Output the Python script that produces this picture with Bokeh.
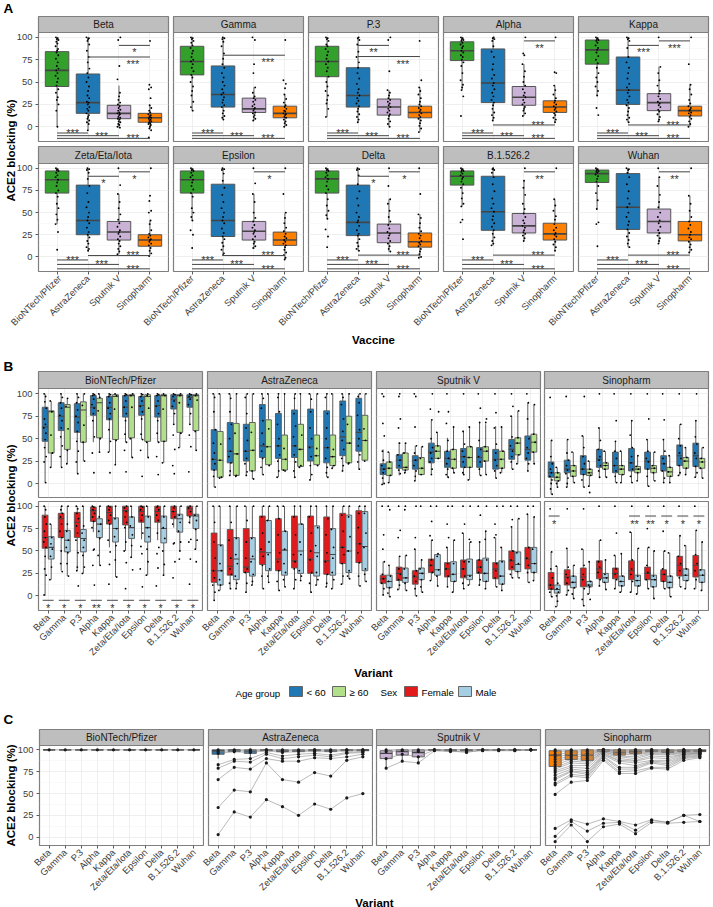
from math import pi
from bokeh.plotting import figure
from bokeh.models import Range1d, FixedTicker, GridBox, Column
from bokeh.core.properties import value
from bokeh.embed import file_html
from bokeh.resources import INLINE

VACCINES = ["BioNTech/Pfizer", "AstraZeneca", "Sputnik V", "Sinopharm"]
VARIANTS = ["Beta", "Gamma", "P.3", "Alpha", "Kappa", "Zeta/Eta/Iota", "Epsilon", "Delta", "B.1.526.2", "Wuhan"]
Y_TICKS = [0, 25, 50, 75, 100]
Y_MINOR = [12.5, 37.5, 62.5, 87.5]
VAX_COL = ["#33A02C", "#1F78B4", "#CAB2D6", "#FF7F00"]
AGE_COL = ["#1F78B4", "#B2DF8A"]
SEX_COL = ["#E31A1C", "#A6CEE3"]
AGE_NAMES = ["< 60", "≥ 60"]
SEX_NAMES = ["Female", "Male"]

# ---- panel A : q1, median, q3, whisker low, whisker high
A_BETA_BOX = [[45,63,84,0,100],[15,27,59,-4,100],[9,15,24,-1,46],[5,10,15,-2,24]]
A_GAMMA_BOX = [[58,73,90,18,100],[22,36,68,8,100],[16,20,32,7,44],[10,15,23,0,36]]
A_P3_BOX = [[56,73,90,11,100],[22,35,66,5,100],[13,22,31,0,41],[10,16,23,-6,44]]
A_ALPHA_BOX = [[74,85,95,41,100],[27,49,87,7,100],[24,33,45,12,70],[16,22,29,5,46]]
A_KAPPA_BOX = [[70,86,97,35,100],[25,41,78,5,100],[18,27,37,6,67],[12,18,23,0,47]]
A_ZETA_BOX = [[72,87,97,37,100],[25,41,81,7,100],[19,28,40,3,71],[12,19,25,1,41]]
A_EPS_BOX = [[72,87,97,41,100],[23,41,82,2,100],[19,29,40,9,71],[13,19,28,-3,50]]
A_DELTA_BOX = [[72,88,97,43,100],[24,39,81,7,100],[16,27,37,6,65],[11,17,27,-1,48]]
A_B1526_BOX = [[81,91,97,57,100],[30,51,91,13,100],[27,35,49,18,86],[19,26,38,7,65]]
A_WUHAN_BOX = [[84,94,98,54,100],[31,56,94,11,100],[27,40,54,15,90],[18,25,40,5,69]]

A_BETA_PTS = [
 [100,99,98,97,95,93,90,87,85,83,80,76,72,68,65,63,60,57,54,50,46,42,38,33,30,25,18,0],
 [100,99,98,96,92,85,78,72,65,60,55,50,45,40,35,32,28,27,25,22,20,18,15,13,11,9,7,5,3,-4],
 [100,97,68,53,38,34,30,27,25,23,21,19,18,16,15,14,13,11,10,9,8,6,5,3,2,0,-1],
 [96,47,44,42,32,24,21,18,16,14,13,12,11,10,9,8,7,6,5,4,3,2,0,-2,-4,-12]]
A_GAMMA_PTS = [
 [100,99,98,96,94,91,88,85,82,78,75,73,70,66,62,58,55,50,45,40,35,28,22,18],
 [100,99,98,95,90,82,76,70,66,60,55,50,46,42,38,36,33,30,27,24,22,18,15,12,10,8],
 [100,97,70,60,44,38,34,32,30,28,25,23,21,20,18,16,15,13,11,9,7],
 [97,52,48,43,36,31,27,24,22,20,18,17,15,14,13,11,10,8,6,4,2,0]]
A_P3_PTS = [
 [100,99,98,96,92,90,87,84,80,76,73,70,66,62,56,50,45,40,35,30,26,20,11],
 [100,99,97,92,84,78,72,66,60,54,48,42,38,35,32,29,26,23,20,17,14,11,8,5],
 [100,97,62,41,38,35,32,30,28,26,24,22,20,18,16,14,12,9,6,3,0],
 [96,52,44,40,36,32,28,25,23,21,19,17,15,13,11,9,7,4,1,-2,-6]]
A_ALPHA_PTS = [
 [100,99,98,97,96,94,92,90,88,85,83,80,78,75,72,68,60,52,47,44,41,34,12],
 [100,99,98,96,90,84,78,70,64,58,54,49,46,42,38,34,30,27,24,20,16,13,10,7],
 [100,82,80,70,62,56,50,46,42,38,35,33,30,27,25,22,20,18,15,12],
 [100,61,60,46,41,36,32,29,27,25,23,21,19,17,15,13,10,8,5]]
A_KAPPA_PTS = [
 [100,99,98,97,96,94,91,88,86,83,79,75,71,66,60,55,50,45,40,35,21,13],
 [100,99,98,96,88,78,72,66,60,54,48,44,41,38,34,30,27,24,21,17,13,10,8,5],
 [100,67,60,52,46,40,37,34,31,28,26,24,22,19,17,14,11,8,6],
 [100,70,47,42,36,30,26,23,21,19,18,16,15,13,11,9,6,3,0]]
A_ZETA_PTS = [
 [100,99,98,97,95,92,90,87,84,80,75,72,68,60,55,48,42,37,28,8],
 [100,99,98,95,88,80,72,62,56,50,45,41,38,33,28,25,22,18,15,11,9,7],
 [100,81,71,62,55,48,42,38,34,30,28,26,23,20,18,15,12,9,6,3],
 [100,69,63,52,50,41,37,30,26,24,22,20,19,17,15,13,10,7,4,1]]
A_EPS_PTS = [
 [100,99,98,97,95,92,90,87,84,80,76,72,68,55,50,45,41,30,25,10],
 [100,99,98,94,86,78,70,62,55,50,45,41,38,32,27,23,20,16,12,8,4,2],
 [100,83,71,62,50,44,40,36,33,30,28,26,23,20,17,15,12,10],
 [100,71,50,44,38,33,29,26,23,21,19,17,15,13,11,8,5,2,-1,-3]]
A_DELTA_PTS = [
 [100,99,98,97,95,92,90,88,85,80,76,72,65,58,52,47,43,31,23,11],
 [100,99,98,92,82,74,66,58,50,45,41,39,35,30,26,24,20,16,12,9,7],
 [100,80,65,60,52,45,40,36,32,28,26,24,21,18,15,12,9,6],
 [100,71,48,44,38,33,29,26,24,21,18,16,14,12,9,6,3,0,-1]]
A_B1526_PTS = [
 [100,99,98,97,96,94,92,90,88,85,82,78,72,66,60,57,42,39,20],
 [100,99,98,95,90,82,74,66,60,55,51,46,42,38,34,30,26,22,18,15,13],
 [100,86,78,70,60,54,49,45,41,38,35,33,30,28,26,24,21,18],
 [100,65,58,52,46,42,37,33,30,27,25,23,20,17,14,11,7]]
A_WUHAN_PTS = [
 [100,99,98,97,96,95,93,91,88,85,80,72,64,54,39,37,12],
 [100,99,98,95,90,82,74,66,60,56,50,45,40,36,31,27,23,19,15,11],
 [100,90,80,70,62,56,50,45,41,38,34,30,27,24,21,18,15],
 [100,69,60,52,45,40,36,32,28,25,22,20,17,14,11,8,5]]

A_SIG_LOW = [(1,2,"***"),(1,3,"***"),(1,4,"***")]
A_LOW_Y_ROW1 = [-7,-10,-13]
A_LOW_Y_ROW2 = [-3.5,-8.5,-13.5]
A_BETA_SIG = [(2,4,78,"***"),(3,4,91,"*")]
A_GAMMA_SIG = [(2,4,80,"***")]
A_P3_SIG = [(2,3,91,"**"),(2,4,78.5,"***")]
A_ALPHA_SIG = [(3,4,96,"**"),(2,4,2,"***")]
A_KAPPA_SIG = [(2,3,91,"***"),(3,4,96,"***"),(2,4,2,"***")]
A_ZETA_SIG = [(2,3,91,"*"),(3,4,96,"*"),(2,4,1.5,"***")]
A_EPS_SIG = [(3,4,96,"*"),(2,4,1.5,"***")]
A_DELTA_SIG = [(2,3,91,"*"),(3,4,96,"*"),(2,4,2,"***")]
A_B1526_SIG = [(3,4,96,"**"),(2,4,2,"***")]
A_WUHAN_SIG = [(3,4,96,"**"),(2,4,2,"***")]

A_ROW1 = [("Beta",A_BETA_BOX,A_BETA_PTS,A_BETA_SIG),("Gamma",A_GAMMA_BOX,A_GAMMA_PTS,A_GAMMA_SIG),
          ("P.3",A_P3_BOX,A_P3_PTS,A_P3_SIG),("Alpha",A_ALPHA_BOX,A_ALPHA_PTS,A_ALPHA_SIG),
          ("Kappa",A_KAPPA_BOX,A_KAPPA_PTS,A_KAPPA_SIG)]
A_ROW2 = [("Zeta/Eta/Iota",A_ZETA_BOX,A_ZETA_PTS,A_ZETA_SIG),("Epsilon",A_EPS_BOX,A_EPS_PTS,A_EPS_SIG),
          ("Delta",A_DELTA_BOX,A_DELTA_PTS,A_DELTA_SIG),("B.1.526.2",A_B1526_BOX,A_B1526_PTS,A_B1526_SIG),
          ("Wuhan",A_WUHAN_BOX,A_WUHAN_PTS,A_WUHAN_SIG)]

# ---- panel B : one row per variant : q1, median, q3, whisker low, whisker high
B_BNT_U60_BOX = [[47,63,85,1,100],[59,75,90,18,100],[57,74,89,11,100],[76,85,98,46,100],[71,85,97,35,100],[74,85,98,46,100],[76,87,97,49,100],[74,87,98,46,100],[83,94,99,66,100],[85,96,99,66,100]]
B_BNT_O60_BOX = [[34,80,81,18,92],[38,85,88,22,95],[46,82,91,25,100],[51,90,95,35,100],[49,97,99,21,100],[51,98,99,29,100],[47,97,99,29,100],[47,98,99,23,100],[57,98,99,40,100],[59,98,99,37,100]]
B_AZ_U60_BOX = [[15,27,60,-4,100],[23,36,68,9,100],[25,36,66,9,100],[29,42,88,10,100],[28,42,78,7,100],[29,42,82,7,100],[25,41,83,4,100],[23,40,81,7,100],[31,52,92,14,100],[36,57,95,16,100]]
B_AZ_O60_BOX = [[7,26,58,7,100],[9,33,67,9,100],[14,37,68,5,100],[21,41,71,20,100],[15,27,54,15,100],[19,38,66,18,100],[21,31,54,20,100],[20,30,54,17,100],[23,45,75,22,100],[26,48,76,25,100]]
B_SV_U60_BOX = [[10,16,22,-1,38],[17,26,32,9,46],[16,26,31,3,42],[23,35,45,10,71],[18,28,36,7,51],[18,30,39,10,59],[18,29,40,9,68],[16,27,38,6,64],[27,38,49,16,75],[26,38,53,14,90]]
B_SV_O60_BOX = [[9,17,24,1,35],[15,18,34,12,45],[10,17,29,10,41],[28,36,42,28,57],[17,27,38,12,63],[18,29,41,4,63],[25,36,41,10,66],[17,27,36,12,63],[32,45,51,22,81],[35,46,55,22,88]]
B_SP_U60_BOX = [[7,12,24,-12,48],[12,16,26,-4,49],[10,16,31,-4,53],[18,27,38,7,62],[12,20,35,1,47],[14,23,39,1,70],[16,25,35,-3,49],[14,22,31,1,49],[20,31,43,9,66],[19,31,45,7,70]]
B_SP_O60_BOX = [[3,7,12,-4,18],[8,14,20,1,35],[9,12,16,-3,25],[16,20,23,7,36],[10,16,20,1,36],[12,16,19,3,31],[12,17,20,3,35],[8,13,18,1,31],[17,25,29,10,40],[17,24,28,6,40]]
B_BNT_F_BOX = [[53,65,90,0,100],[65,86,92,28,100],[65,82,93,28,100],[83,95,99,71,100],[80,93,100,54,100],[79,95,100,50,100],[82,94,100,63,100],[82,94,100,62,100],[86,94,100,76,100],[89,97,100,80,100]]
B_BNT_M_BOX = [[41,54,66,18,80],[49,62,73,22,100],[49,64,74,25,100],[65,80,86,34,100],[60,75,87,21,100],[64,76,88,43,100],[60,76,89,23,100],[59,75,89,23,100],[71,86,91,50,100],[75,89,91,52,100]]
B_AZ_F_BOX = [[15,28,70,-5,100],[23,33,74,8,100],[26,32,75,4,100],[35,49,89,8,100],[28,41,86,6,100],[31,39,89,8,100],[25,41,89,4,100],[24,39,88,10,100],[36,54,92,13,100],[37,58,95,11,100]]
B_AZ_M_BOX = [[12,28,57,6,100],[18,41,65,8,100],[22,41,65,12,100],[28,48,84,15,100],[23,51,72,10,100],[25,50,80,17,100],[22,48,78,12,100],[23,46,75,8,100],[26,50,90,19,100],[28,55,94,16,100]]
B_SV_F_BOX = [[14,19,23,1,38],[17,25,32,7,44],[13,21,28,0,52],[26,34,41,17,62],[21,30,37,10,54],[20,30,40,8,70],[25,32,40,12,60],[19,30,37,10,65],[29,39,50,20,77],[30,41,54,15,91]]
B_SV_M_BOX = [[9,16,23,-1,34],[15,20,31,6,45],[18,25,31,4,40],[23,29,46,11,47],[16,24,38,4,62],[18,23,41,12,60],[16,25,42,8,72],[13,22,39,6,54],[27,35,49,20,86],[26,36,54,17,88]]
B_SP_F_BOX = [[7,12,26,-1,49],[12,21,29,1,53],[10,21,31,-11,52],[19,30,39,11,62],[19,25,31,8,45],[18,28,39,4,71],[18,25,32,8,54],[16,24,29,8,50],[22,34,44,10,67],[21,34,45,8,73]]
B_SP_M_BOX = [[3,7,12,-12,33],[9,15,22,-3,34],[10,12,16,2,38],[15,20,25,7,40],[11,16,22,4,47],[11,17,23,2,53],[10,18,23,-3,50],[9,15,22,-1,48],[17,23,30,8,56],[15,23,29,6,60]]

B_BNT_U60_PTS = [[100,97,91,84,72,66,62,56,49,40,30,24,1],[100,96,90,84,76,70,62,52,42,30,18],[100,96,90,82,75,68,58,47,36,24,11],[100,99,98,94,88,84,78,70,52,34,12],[100,99,97,90,84,78,72,60,47,35,12],[100,99,98,92,85,78,70,55,46,37,13],[100,99,97,92,86,80,72,55,49,37,8],[100,99,98,92,86,78,70,56,46,30,10],[100,99,97,92,86,78,66,54,38,20,11],[100,99,97,94,88,78,66,54,41,13]]
B_BNT_O60_PTS = [[92,80,54,34,18],[95,86,61,37,22],[100,87,65,46,25],[100,96,81,50,35],[100,98,83,48,21],[100,98,85,50,29],[100,98,84,46,29],[100,98,83,47,23],[100,98,90,56,40],[100,98,93,58,37]]
B_AZ_U60_PTS = [[100,96,80,60,45,34,27,22,15,8,-4],[100,95,80,66,50,36,30,23,14,9],[100,96,78,62,48,36,28,22,13,9],[100,95,84,70,56,44,36,28,18,10],[100,96,80,66,50,42,32,25,14,7],[100,95,78,64,52,42,32,24,14,7],[100,94,80,62,50,40,30,20,10,4],[100,96,78,62,50,40,28,18,12,7],[100,96,88,72,58,48,38,28,20,14],[100,97,90,76,60,50,42,32,24,16]]
B_AZ_O60_PTS = [[100,44,26,7,6],[100,56,33,9,8],[100,57,37,14,5],[100,61,41,20],[100,39,27,15,14],[100,54,38,20,18],[100,39,31,20],[100,38,30,20,17],[100,66,45,23,22],[100,61,48,25]]
B_SV_U60_PTS = [[100,97,67,53,36,26,20,16,12,6,0,-1],[100,97,72,62,45,32,26,20,15,11],[100,97,63,42,34,26,20,14,8,3],[100,83,71,50,40,34,28,24,16,10],[100,80,67,48,36,28,22,16,10,7],[100,58,44,36,30,24,18,12,10],[100,84,68,48,38,30,24,16,9],[100,79,62,44,34,26,20,14,6],[100,86,75,52,42,36,30,24,16],[100,90,72,50,40,34,28,22,14]]
B_SV_O60_PTS = [[35,24,17,9,1],[45,34,18,15,12],[41,28,17,10],[80,57,42,36,28],[63,38,27,17,12],[63,41,29,18,4],[72,68,41,36,25,10],[63,36,27,17,12],[81,51,45,32,22],[88,55,46,35,22]]
B_SP_U60_PTS = [[96,48,30,22,16,12,8,4,0,-6,-12],[97,49,34,26,20,15,11,6,0,-4],[97,53,40,30,22,16,10,4,-4],[100,62,48,38,30,26,20,14,7],[100,70,47,36,28,20,14,8,1],[100,70,54,40,30,23,16,8,1],[100,72,49,36,28,24,16,8,-3],[100,71,49,36,28,22,14,6,1],[100,66,50,42,34,28,20,12,9],[100,70,52,44,34,28,19,12,7]]
B_SP_O60_PTS = [[18,12,7,3,0,-4],[35,20,14,8,1],[25,16,12,9,-3,-10],[36,23,20,16,7],[36,20,16,10,1],[31,19,16,12,3],[35,20,17,12,3],[31,18,13,8,1],[40,29,25,17,10],[40,28,24,17,6]]
B_BNT_F_PTS = [[100,96,88,80,72,65,60,54,44,30,23,1],[100,96,92,88,80,72,65,50,36,27],[100,97,92,86,78,70,62,48,32,28,11],[100,99,96,92,88,83,76,52,51,34,12],[100,99,96,90,84,80,62,49,35,13],[100,98,94,88,82,76,60,50,37,8],[100,99,96,90,84,70,55,47,30,10],[100,99,96,90,84,70,54,47,31,11],[100,98,94,88,80,59,58,38,20],[100,98,94,88,82,63,60,41,13]]
B_BNT_M_PTS = [[80,65,58,52,44,32,18],[100,80,72,62,54,48,36,22],[100,78,70,62,54,45,32,25],[100,88,80,72,64,45,34],[100,86,75,66,56,40,21],[100,88,78,68,56,43,29],[100,88,76,66,52,38,23],[100,88,76,64,50,35,23],[100,90,82,72,60,50,41],[100,90,84,74,62,52,38]]
B_AZ_F_PTS = [[100,82,60,42,28,20,12,4,-5],[100,82,62,42,30,24,14,8],[100,84,60,42,30,26,14,4],[100,88,70,52,44,34,22,8],[100,86,68,48,38,28,16,6],[100,88,68,46,38,30,18,8],[100,88,70,50,40,26,14,4],[100,86,68,48,38,24,14,10],[100,90,72,54,46,36,22,13],[100,92,76,58,48,37,22,11]]
B_AZ_M_PTS = [[100,56,36,28,18,12,6],[100,64,46,36,22,14,8],[100,64,44,38,24,16,12],[100,84,60,46,30,22,15],[100,72,52,36,26,18,10],[100,80,60,46,28,22,17],[100,76,56,44,26,18,12],[100,74,54,42,26,18,8],[100,88,66,50,28,22,19],[100,92,70,54,30,24,16]]
B_SV_F_PTS = [[100,68,52,38,24,19,14,8,1],[100,73,65,44,30,24,18,12,7],[100,65,52,28,22,16,8,0],[100,83,67,62,40,34,26,17],[100,80,65,54,36,30,22,10],[100,80,70,38,30,22,14,8],[100,90,60,40,32,26,18,12],[100,80,68,65,36,28,20,10],[100,85,77,50,40,32,24,20],[100,91,54,42,34,26,15]]
B_SV_M_PTS = [[100,96,34,22,16,9,3,-1],[100,96,45,30,20,14,6],[100,40,30,25,18,10,4],[100,47,44,29,22,11],[100,62,36,24,16,4],[100,63,60,38,22,12],[100,72,63,40,25,16,8],[100,54,38,22,13,6],[100,86,48,36,27,20],[100,88,52,36,26,17]]
B_SP_F_PTS = [[97,49,30,20,12,8,4,-1],[97,53,32,24,20,14,6,1],[97,52,34,24,18,8,-4,-11],[100,62,38,32,26,18,11],[100,70,45,30,24,18,8],[100,71,40,30,24,16,4],[100,75,54,34,26,18,8],[100,72,50,30,24,16,8],[100,67,44,36,28,20,10],[100,73,46,36,28,18,8]]
B_SP_M_PTS = [[33,14,8,4,0,-6,-12],[34,22,15,9,2,-3],[38,16,12,10,2,-4],[40,24,20,15,7],[47,22,16,11,4],[53,22,17,11,2],[50,22,18,10,-3],[48,22,15,9,-1],[56,30,23,17,8],[60,29,23,15,6]]

B_BNT_SIG = ["*","*","*","**","*","*","*","*","*","*"]
B_SP_SIG = ["*","","","","","**","**","*","*","*"]
B_BNT_SIG_Y = -5
B_SP_SIG_Y = 89

B_ROW1 = [("BioNTech/Pfizer",B_BNT_U60_BOX,B_BNT_O60_BOX,B_BNT_U60_PTS,B_BNT_O60_PTS),
          ("AstraZeneca",B_AZ_U60_BOX,B_AZ_O60_BOX,B_AZ_U60_PTS,B_AZ_O60_PTS),
          ("Sputnik V",B_SV_U60_BOX,B_SV_O60_BOX,B_SV_U60_PTS,B_SV_O60_PTS),
          ("Sinopharm",B_SP_U60_BOX,B_SP_O60_BOX,B_SP_U60_PTS,B_SP_O60_PTS)]
B_ROW2 = [(B_BNT_F_BOX,B_BNT_M_BOX,B_BNT_F_PTS,B_BNT_M_PTS),
          (B_AZ_F_BOX,B_AZ_M_BOX,B_AZ_F_PTS,B_AZ_M_PTS),
          (B_SV_F_BOX,B_SV_M_BOX,B_SV_F_PTS,B_SV_M_PTS),
          (B_SP_F_BOX,B_SP_M_BOX,B_SP_F_PTS,B_SP_M_PTS)]

# ---- panel C : paired series over the ten variants, and boxes
C_BNT_LINES = [[100]*10]
C_AZ_LINES = [[3,29,23,43,35,25,38,32,45,50],[34,54,52,85,66,63,74,70,88,92],[66,80,78,90,87,87,91,90,92,95],
              [79,87,86,95,90,92,94,92,96,97],[83,89,90,97,93,95,96,94,97,98],[96,98,97,99,97,98,98,98,99,99],
              [98,99,99,100,99,99,100,99,100,100],[100]*10]
C_SV_LINES = [[79,87,85,99,98,98,99,99,99,100],[90,95,92,100,99,97,100,100,100,100],[98,99,98,100,100,100,100,100,100,100],[100]*10]
C_SP_LINES = [[10,20,15,21,18,14,20,17,25,26],[1,18,7,16,17,8,19,17,25,18],[-5,14,-5,12,15,4,17,16,17,18],
              [49,63,65,88,73,73,79,78,88,91],[60,70,68,90,75,76,80,80,90,92],[62,72,70,92,78,78,85,82,91,93],
              [66,75,72,93,80,80,86,84,92,94],[68,76,74,94,85,82,87,86,93,95],[71,78,76,95,87,85,88,88,94,96],
              [74,80,79,96,88,87,91,90,95,96],[76,82,82,97,90,88,93,92,95,97],[78,85,84,98,92,90,95,94,96,97],
              [80,87,86,98,93,92,96,95,97,98],[83,89,88,99,95,94,97,96,97,98],[86,91,90,99,96,95,98,97,98,99],
              [89,93,92,100,97,97,98,98,99,99],[92,95,94,100,98,98,99,99,99,100],[95,97,96,100,99,99,100,99,100,100],
              [98,99,98,100,100,100,100,100,100,100],[100]*10]
C_BNT_BOX = [[100,100,100,100,100]]*10
C_AZ_BOX = [[95,99,100,90,100],[98,100,100,96,100],[96,99,100,92,100],[99,100,100,98,100],[98,99,100,96,100],[98,99,100,96,100],[99,100,100,98,100],[98,99,100,96,100],[99,100,100,98,100],[99,100,100,98,100]]
C_SV_BOX = [[90,96,99,79,100],[94,98,100,87,100],[92,97,100,85,100],[100,100,100,100,100],[99,100,100,99,100],[99,100,100,98,100],[100,100,100,100,100],[100,100,100,100,100],[100,100,100,100,100],[100,100,100,100,100]]
C_SP_BOX = [[81,94,99,60,100],[89,94,99,75,100],[88,94,100,70,100],[98,100,100,92,100],[94,97,100,85,100],[96,98,100,90,100],[98,99,100,94,100],[97,99,100,92,100],[98,99,100,96,100],[98,99,100,96,100]]
C_ROW = [("BioNTech/Pfizer",C_BNT_BOX,C_BNT_LINES,VAX_COL[0]),("AstraZeneca",C_AZ_BOX,C_AZ_LINES,VAX_COL[1]),
         ("Sputnik V",C_SV_BOX,C_SV_LINES,VAX_COL[2]),("Sinopharm",C_SP_BOX,C_SP_LINES,VAX_COL[3])]

# ---- layout and style
W, H = 713, 907
FONT = "Liberation Sans"
TICK_COL = "#3c3c3c"
JIT = [-0.6, 0.35, -0.15, 0.75, -0.4, 0.2, -0.8, 0.5, 0.05, -0.3, 0.65]
children = []
decor = figure(width=W, height=H, x_range=Range1d(0, W), y_range=Range1d(H, 0),
               x_axis_type=None, y_axis_type=None, toolbar_location=None, output_backend="svg",
               min_border=0, background_fill_color=None, border_fill_color=None, outline_line_color=None)
decor.xgrid.visible = False
decor.ygrid.visible = False


def label(txt, x, y, size, bold=False, align="left", angle=0.0, col="#000000"):
    decor.text([x], [y], text=[txt], text_font=value(FONT), text_font_size=f"{size}px",
               text_font_style="bold" if bold else "normal", text_align=align,
               text_baseline="middle", angle=angle, text_color=col)


def strip(name, x0, x1, y0, y1):
    decor.quad(left=[x0], right=[x1], top=[y0], bottom=[y1], fill_color="#BEBEBE", line_color="#7f7f7f", line_width=1.2)
    label(name, (x0 + x1) / 2, (y0 + y1) / 2 + 0.3, 10, align="center", col="#1a1a1a")


def panel(x0, x1, y0, y1, n, ymin, ymax, names=None, yaxis=False, bl=1, bb=1):
    p = figure(width=x1 - x0 + bl + 1, height=y1 - y0 + bb + 1,
               x_range=Range1d(0.4, n + 0.6), y_range=Range1d(ymin, ymax),
               toolbar_location=None, output_backend="svg",
               min_border_left=bl, min_border_right=1, min_border_top=1, min_border_bottom=bb,
               background_fill_color="white", border_fill_color=None,
               outline_line_color="#7f7f7f", outline_line_width=1.2)
    ticks = list(range(1, n + 1))
    p.xgrid.ticker = FixedTicker(ticks=ticks)
    p.ygrid.ticker = FixedTicker(ticks=Y_TICKS, minor_ticks=Y_MINOR)
    p.xgrid.grid_line_color = "#ebebeb"
    p.ygrid.grid_line_color = "#ebebeb"
    p.ygrid.minor_grid_line_color = "#f3f3f3"
    p.xgrid.grid_line_width = 0.8
    p.ygrid.grid_line_width = 0.8
    p.ygrid.minor_grid_line_width = 0.5
    xa, ya = p.xaxis[0], p.yaxis[0]
    xa.ticker = FixedTicker(ticks=ticks)
    ya.ticker = FixedTicker(ticks=Y_TICKS, minor_ticks=Y_MINOR)
    for a in (xa, ya):
        a.axis_line_color = None
        a.major_tick_line_color = "#333333"
        a.major_tick_line_width = 0.8
        a.major_tick_out = 3
        a.major_tick_in = 0
        a.minor_tick_line_color = None
        a.major_label_text_font = FONT
        a.major_label_text_font_size = "9.4px"
        a.major_label_text_color = TICK_COL
        a.major_label_standoff = 2
    if names is None:
        xa.visible = False
    else:
        xa.major_label_overrides = {i + 1: s for i, s in enumerate(names)}
        xa.major_label_orientation = pi / 4
    ya.visible = yaxis
    children.append(Column(children=[p], margin=(y0 - 1, 0, 0, x0 - bl)))
    return p


def boxes(p, xs, stats, width, cols, lw=1.0, med=1.6):
    q1 = [s[0] for s in stats]
    md = [s[1] for s in stats]
    q3 = [s[2] for s in stats]
    lo = [s[3] for s in stats]
    hi = [s[4] for s in stats]
    p.segment(xs, lo, xs, q1, line_color="#333333", line_width=0.8)
    p.segment(xs, q3, xs, hi, line_color="#333333", line_width=0.8)
    L = [x - width / 2 for x in xs]
    R = [x + width / 2 for x in xs]
    p.quad(left=L, right=R, top=q3, bottom=q1, fill_color=cols, line_color="#555555", line_width=lw)
    p.segment(L, md, R, md, line_color="#444444", line_width=med)


def dots(p, xs, groups, jit, size=1.9):
    X, Y = [], []
    k = 0
    for x, g in zip(xs, groups):
        for v in g:
            X.append(x + JIT[k % len(JIT)] * jit)
            Y.append(v)
            k += 1
    p.scatter(X, Y, size=size, color="#000000", line_width=0)


def stars(box, xs, ys, texts):
    # box = x0, x1, y0, y1, n, ymin, ymax : the panel the stars belong to; drawn unclipped on the top layer
    x0, x1, y0, y1, n, ymin, ymax = box
    px = [x0 + (x - 0.4) / (n + 0.2) * (x1 - x0) for x in xs]
    py = [y1 - (y - ymin) / (ymax - ymin) * (y1 - y0) + 2.6 for y in ys]
    decor.text(px, py, text=texts, text_font=value(FONT), text_font_size="11px", text_align="center",
               text_baseline="middle", text_color="#333333")


STAR_X = {(1, 2): 1.5, (1, 3): 2.44, (1, 4): 3.45, (2, 3): 2.5, (2, 4): 3.45, (3, 4): 3.5}
A_LEFT = [38, 173, 308, 443, 578]


def panel_a(row, y0, y1, ystrip, low_y, names):
    for c, (title, box, pts, sig) in enumerate(row):
        x0 = A_LEFT[c]
        strip(title, x0, x0 + 130, ystrip, y0)
        p = panel(x0, x0 + 130, y0, y1, 4, -16.5, 105.4, names=names, yaxis=c == 0,
                  bl=30 if c == 0 else 72, bb=72 if names else 1)
        xs = [1, 2, 3, 4]
        boxes(p, xs, box, 0.76, VAX_COL)
        dots(p, xs, pts, 0.06)
        allsig = [(i, j, y, t) for (i, j, t), y in zip(A_SIG_LOW, low_y)] + list(sig)
        p.segment([s[0] for s in allsig], [s[2] for s in allsig], [s[1] for s in allsig], [s[2] for s in allsig],
                  line_color="#444444", line_width=1)
        stars((x0, x0 + 130, y0, y1, 4, -16.5, 105.4), [STAR_X[(s[0], s[1])] for s in allsig],
              [s[2] + 3 if s[2] < 10 else s[2] - 5 for s in allsig], [s[3] for s in allsig])


panel_a(A_ROW1, 32, 141, 16, A_LOW_Y_ROW1, None)
panel_a(A_ROW2, 163, 271, 146, A_LOW_Y_ROW2, VACCINES)

B_LEFT = [38, 207, 376, 544]
DODGE = 0.19
for c, (title, b1, b2, p1, p2) in enumerate(B_ROW1):
    x0 = B_LEFT[c]
    strip(title, x0, x0 + 164, 371, 388)
    p = panel(x0, x0 + 164, 388, 497, 10, -15.6, 105.9, yaxis=c == 0, bl=30 if c == 0 else 1)
    xa = [i + 1 - DODGE for i in range(10)]
    xb = [i + 1 + DODGE for i in range(10)]
    boxes(p, xa, b1, 0.36, AGE_COL[0], lw=0.9, med=1.1)
    boxes(p, xb, b2, 0.36, AGE_COL[1], lw=0.9, med=1.1)
    dots(p, xa, p1, 0.1, size=1.8)
    dots(p, xb, p2, 0.1, size=1.8)

for c, (b1, b2, p1, p2) in enumerate(B_ROW2):
    x0 = B_LEFT[c]
    p = panel(x0, x0 + 164, 501, 610, 10, -16.4, 105.2, names=VARIANTS, yaxis=c == 0,
              bl=30 if c == 0 else 62, bb=62)
    xa = [i + 1 - DODGE for i in range(10)]
    xb = [i + 1 + DODGE for i in range(10)]
    boxes(p, xa, b1, 0.36, SEX_COL[0], lw=0.9, med=1.1)
    boxes(p, xb, b2, 0.36, SEX_COL[1], lw=0.9, med=1.1)
    dots(p, xa, p1, 0.1, size=1.8)
    dots(p, xb, p2, 0.1, size=1.8)
    if c in (0, 3):
        labs = B_BNT_SIG if c == 0 else B_SP_SIG
        yy = B_BNT_SIG_Y if c == 0 else B_SP_SIG_Y
        keep = [i for i, t in enumerate(labs) if t]
        p.segment([xa[i] - 0.15 for i in keep], [yy] * len(keep), [xb[i] + 0.15 for i in keep], [yy] * len(keep),
                  line_color="#333333", line_width=0.9)
        stars((x0, x0 + 164, 501, 610, 10, -16.4, 105.2), [i + 1 for i in keep], [yy - 5.5] * len(keep), [labs[i] for i in keep])

C_LEFT = [39, 208, 376, 545]
for c, (title, box, lines, col) in enumerate(C_ROW):
    x0 = C_LEFT[c]
    strip(title, x0, x0 + 164, 729, 745)
    p = panel(x0, x0 + 164, 745, 845, 10, -9.5, 105, names=VARIANTS, yaxis=c == 0,
              bl=31 if c == 0 else 62, bb=62)
    xs = list(range(1, 11))
    boxes(p, xs, box, 0.75, col, lw=0.9, med=1.3)
    for s in lines:
        p.line(xs, s, line_color="#8c8c8c", line_width=0.6)
    for s in lines:
        p.scatter(xs, s, size=3.2, color="#1a1a1a", line_width=0)

# ---- titles, panel letters, legend
label("A", 3, 8, 13.5, bold=True)
label("B", 3, 365.5, 13.5, bold=True)
label("C", 3, 718.5, 13.5, bold=True)
label("ACE2 blocking (%)", 10, 150, 11.5, bold=True, align="center", angle=pi / 2)
label("ACE2 blocking (%)", 10, 495, 11.5, bold=True, align="center", angle=pi / 2)
label("ACE2 blocking (%)", 10.5, 795, 11.5, bold=True, align="center", angle=pi / 2)
label("Vaccine", 373, 339, 11.5, bold=True, align="center")
label("Variant", 373, 672, 11.5, bold=True, align="center")
label("Variant", 374, 902, 11.5, bold=True, align="center")
label("Age group", 235, 693, 9.7)
label("Sex", 380, 692, 9.7)
KEY_X = [289, 332, 404, 458]
KEY_T = AGE_NAMES + SEX_NAMES
KEY_C = AGE_COL + SEX_COL
for kx, t, kc in zip(KEY_X, KEY_T, KEY_C):
    decor.quad(left=[kx], right=[kx + 13], top=[686], bottom=[696], fill_color=kc, line_color="#666666", line_width=1)
    label(t, kx + 17, 692, 9.7)

top = Column(children=[decor], margin=0)
grid = GridBox(children=[(c, 0, 0) for c in children] + [(top, 0, 0)],
               rows=f"{H}px", cols=f"{W}px", width=W, height=H)
open("out.html", "w").write(file_html(grid, INLINE))
